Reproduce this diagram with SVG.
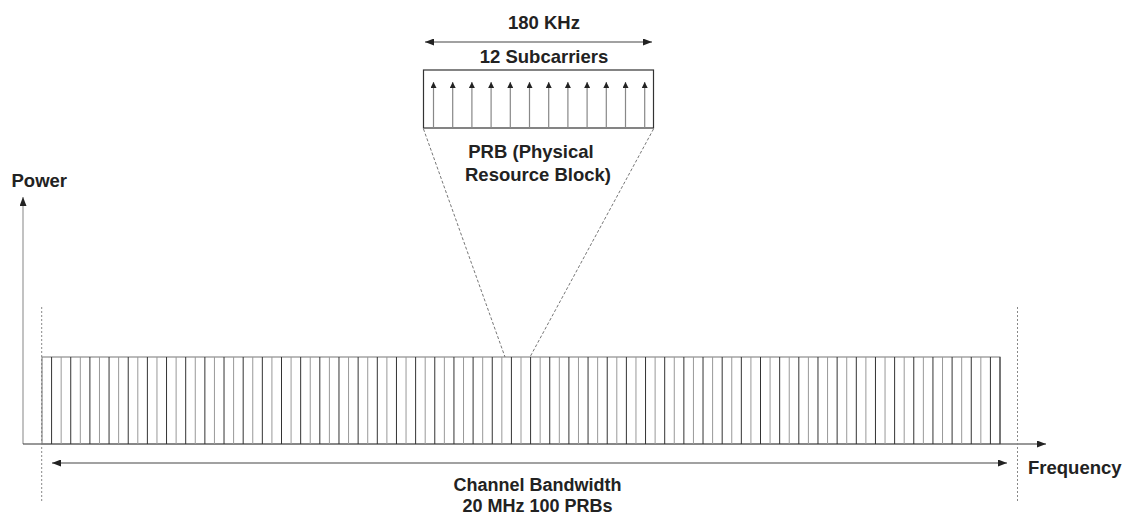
<svg xmlns="http://www.w3.org/2000/svg" width="1131" height="519" viewBox="0 0 1131 519">
<style>
.lbl{font-family:"Liberation Sans",Arial,sans-serif;font-weight:bold;font-size:18.5px;fill:#222}
.sm{font-size:18px}
.mid{text-anchor:middle}
.ax{stroke:#333;stroke-width:1.2;fill:none}
.dot{stroke:#888;stroke-width:1;stroke-dasharray:2 2;fill:none}
.dash{stroke:#777;stroke-width:1;stroke-dasharray:3 2;fill:none}
</style>
<defs>
<marker id="ah" markerUnits="userSpaceOnUse" markerWidth="9" markerHeight="7" refX="9" refY="3.5" orient="auto-start-reverse"><path d="M0,0L9,3.5L0,7z" fill="#222"/></marker>
<marker id="sh" markerUnits="userSpaceOnUse" markerWidth="6" markerHeight="6" refX="6" refY="3" orient="auto"><path d="M0,0L6,3L0,6z" fill="#222"/></marker>
</defs>
<rect width="1131" height="519" fill="#fff"/>
<g id="axes">
<line x1="23" y1="444" x2="23" y2="197" stroke="#999" stroke-width="1.2" marker-end="url(#ah)"/>
<line class="ax" x1="23" y1="444" x2="1046" y2="444" marker-end="url(#ah)"/>
<text class="lbl" x="11.5" y="187">Power</text>
<text class="lbl" x="1028" y="474">Frequency</text>
</g>
<g id="band-edges">
<line class="dot" x1="41.7" y1="307" x2="41.7" y2="503"/>
<line class="dot" x1="1017.5" y1="307" x2="1017.5" y2="503"/>
</g>
<g id="channel">
<rect x="42" y="357" width="958" height="87" fill="none" stroke="#777" stroke-width="1"/>
<line x1="1000" y1="357" x2="1000" y2="444" stroke="#333"/>
<path stroke="#333" stroke-width="1" fill="none" d="M51.58 357V444M70.74 357V444M89.9 357V444M109.06 357V444M128.22 357V444M147.38 357V444M166.54 357V444M185.7 357V444M204.86 357V444M224.02 357V444M243.18 357V444M262.34 357V444M281.5 357V444M300.66 357V444M319.82 357V444M338.98 357V444M358.14 357V444M377.3 357V444M396.46 357V444M415.62 357V444M434.78 357V444M453.94 357V444M473.1 357V444M492.26 357V444M511.42 357V444M530.58 357V444M549.74 357V444M568.9 357V444M588.06 357V444M607.22 357V444M626.38 357V444M645.54 357V444M664.7 357V444M683.86 357V444M703.02 357V444M722.18 357V444M741.34 357V444M760.5 357V444M779.66 357V444M798.82 357V444M817.98 357V444M837.14 357V444M856.3 357V444M875.46 357V444M894.62 357V444M913.78 357V444M932.94 357V444M952.1 357V444M971.26 357V444M990.42 357V444"/>
<path stroke="#999" stroke-width="1" fill="none" d="M61.16 357V444M80.32 357V444M99.48 357V444M118.64 357V444M137.8 357V444M156.96 357V444M176.12 357V444M195.28 357V444M214.44 357V444M233.6 357V444M252.76 357V444M271.92 357V444M291.08 357V444M310.24 357V444M329.4 357V444M348.56 357V444M367.72 357V444M386.88 357V444M406.04 357V444M425.2 357V444M444.36 357V444M463.52 357V444M482.68 357V444M501.84 357V444M521 357V444M540.16 357V444M559.32 357V444M578.48 357V444M597.64 357V444M616.8 357V444M635.96 357V444M655.12 357V444M674.28 357V444M693.44 357V444M712.6 357V444M731.76 357V444M750.92 357V444M770.08 357V444M789.24 357V444M808.4 357V444M827.56 357V444M846.72 357V444M865.88 357V444M885.04 357V444M904.2 357V444M923.36 357V444M942.52 357V444M961.68 357V444M980.84 357V444"/>
<text class="lbl sm mid" x="537.5" y="491">Channel Bandwidth</text>
<text class="lbl sm mid" x="537.5" y="511.5">20 MHz 100 PRBs</text>
</g>
<g id="prb">
<rect x="423.5" y="70" width="230" height="58" fill="none" stroke="#333" stroke-width="1.2"/>
<g stroke="#888" stroke-width="1.2" marker-end="url(#sh)">
<line x1="433.5" y1="128" x2="433.5" y2="82"/>
<line x1="452.7" y1="128" x2="452.7" y2="82"/>
<line x1="471.9" y1="128" x2="471.9" y2="82"/>
<line x1="491.1" y1="128" x2="491.1" y2="82"/>
<line x1="510.3" y1="128" x2="510.3" y2="82"/>
<line x1="529.5" y1="128" x2="529.5" y2="82"/>
<line x1="548.7" y1="128" x2="548.7" y2="82"/>
<line x1="567.9" y1="128" x2="567.9" y2="82"/>
<line x1="587.1" y1="128" x2="587.1" y2="82"/>
<line x1="606.3" y1="128" x2="606.3" y2="82"/>
<line x1="625.5" y1="128" x2="625.5" y2="82"/>
<line x1="644.7" y1="128" x2="644.7" y2="82"/>
</g>
<text class="lbl mid" x="544" y="29">180 KHz</text>
<text class="lbl mid" x="544" y="62.5">12 Subcarriers</text>
<text class="lbl mid" x="531" y="158">PRB (Physical</text>
<text class="lbl mid" x="538" y="181">Resource Block)</text>
</g>
<g id="connectors">
<line x1="425" y1="42" x2="652" y2="42" stroke="#444" stroke-width="1.2" marker-start="url(#ah)" marker-end="url(#ah)"/>
<line x1="52" y1="463" x2="1007" y2="463" stroke="#444" stroke-width="1.2" marker-start="url(#ah)" marker-end="url(#ah)"/>
<line class="dash" x1="423.5" y1="129" x2="505" y2="357"/>
<line class="dash" x1="653.5" y1="129" x2="530" y2="357"/>
</g>
</svg>
